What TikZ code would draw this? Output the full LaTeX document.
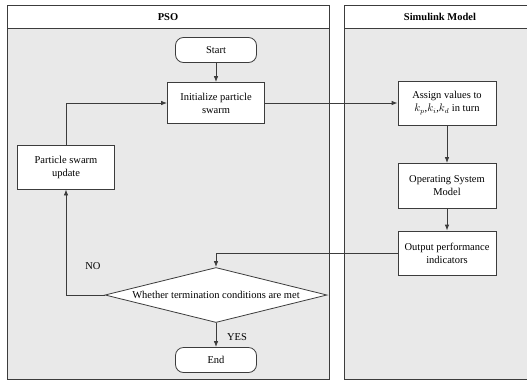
\documentclass[tikz,border=0pt]{standalone}
\usepackage{fontspec}
\setmainfont{Liberation Serif}
\usetikzlibrary{shapes.geometric,arrows.meta}
\definecolor{lanegray}{RGB}{233,233,233}
\definecolor{edgegray}{RGB}{60,60,60}
\tikzset{
    box/.style={draw=edgegray, fill=white, line width=0.8pt, align=center,
        minimum width=98, minimum height=44, inner sep=2pt},
    term/.style={draw=edgegray, fill=white, line width=0.8pt, rounded corners=8pt,
        minimum width=81, minimum height=25},
    decision/.style={draw=edgegray, fill=white, line width=0.8pt, diamond, aspect=4,
        inner sep=0pt, minimum width=222, minimum height=55},
    flow/.style={draw=edgegray, line width=0.8pt, -{Latex[length=6pt,width=4.5pt]}},
}
\begin{document}
\begin{tikzpicture}[x=1pt, y=-1pt, font=\fontsize{10.5}{13}\selectfont]
    \useasboundingbox (0,0) rectangle (527,381);
    % PSO lane
    \draw[edgegray, line width=0.8pt, fill=lanegray] (7,5) rectangle (329,379);
    \draw[edgegray, line width=0.8pt, fill=white] (7,5) rectangle (329,28);
    \node[font=\fontsize{10.5}{13}\selectfont\bfseries] (psohead) at (168,17) {PSO};

    % Simulink lane
    \draw[edgegray, line width=0.8pt, fill=lanegray] (344,5) rectangle (530,379);
    \draw[edgegray, line width=0.8pt, fill=white] (344,5) rectangle (530,28);
    \node[font=\fontsize{10.5}{13}\selectfont\bfseries] (simhead) at (440,17) {Simulink Model};

    % PSO steps
    \node[term] (start) at (216,50) {Start};
    \node[box, minimum width=97, minimum height=41] (init) at (216,103) {Initialize particle\\swarm};
    \node[box, minimum width=97] (update) at (66,167) {Particle swarm\\update};
    \node[decision] (cond) at (216,295) {Whether termination conditions are met};
    \node[term] (end) at (216,360) {End};
    \node (no) at (93,266) {NO};
    \node (yes) at (237,337) {YES};

    % Simulink steps
    \node[box] (assign) at (447,103) {Assign values to\\$k_p$,$k_i$,$k_d$ in turn};
    \node[box, minimum height=45] (osm) at (447,186) {Operating System\\Model};
    \node[box] (output) at (447,253) {Output performance\\indicators};

    % connectors
    \draw[flow] (start) -- (init);
    \draw[flow] (init) -- (assign);
    \draw[flow] (assign) -- (osm);
    \draw[flow] (osm) -- (output);
    \draw[flow] (output.west) -| (cond.north);
    \draw[flow] (cond) -- (end);
    \draw[flow] (cond.west) -| (update.south);
    \draw[flow] (update.north) |- (init.west);
\end{tikzpicture}
\end{document}
